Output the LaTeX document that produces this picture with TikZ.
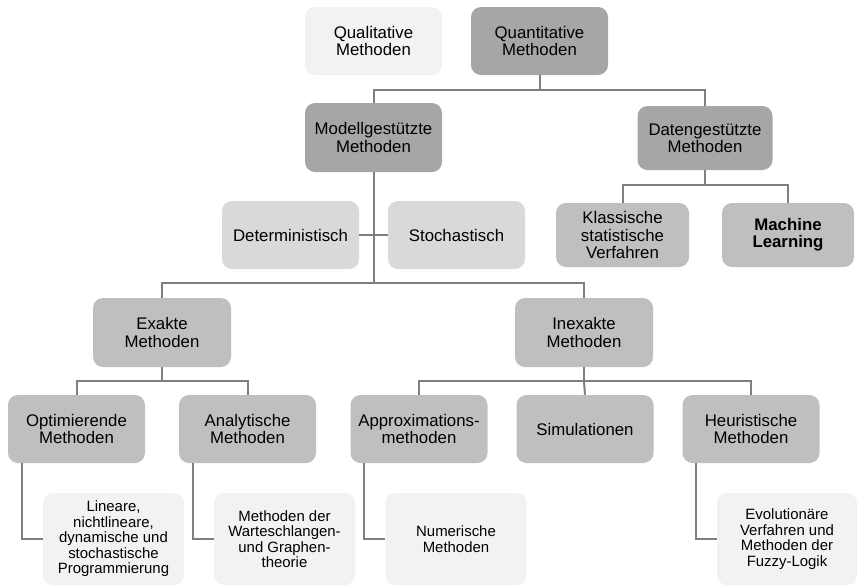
\documentclass[tikz,border=0pt]{standalone}
\usepackage{fontspec}
\setmainfont{Liberation Sans}
\usetikzlibrary{positioning}
\definecolor{boxdark}{HTML}{A6A6A6}
\definecolor{boxmid}{HTML}{BFBFBF}
\definecolor{boxlight}{HTML}{D9D9D9}
\definecolor{boxpale}{HTML}{F2F2F2}
\definecolor{linegray}{HTML}{7F7F7F}

\begin{document}
\begin{tikzpicture}[x=0.75pt, y=-0.75pt]
		\tikzstyle{every node}=[font=\fontsize{12.6}{13}\selectfont]
		\tikzstyle{box}=[rounded corners=7.5pt, align=center, inner sep=0pt, minimum width=102.75pt, minimum height=51pt]
		\tikzstyle{dark}=[box, fill=boxdark]
		\tikzstyle{mid}=[box, fill=boxmid]
		\tikzstyle{light}=[box, fill=boxlight]
		\tikzstyle{pale}=[box, fill=boxpale]
		\tikzstyle{leaf}=[pale, minimum width=105.75pt, minimum height=69pt, font=\fontsize{11.2}{11.6}\selectfont]
		\tikzstyle{link}=[line width=1.5pt, draw=linegray]
		\useasboundingbox (0,0) rectangle (857,586);
		% top row
		\node [pale] (qual) at (373.5,41) {Qualitative\\Methoden};
		\node [dark] (quant) at (539.5,41) {Quantitative\\Methoden};
		\node [dark, minimum height=51.75pt] (modell) at (373.5,137.5) {Modellgestützte\\Methoden};
		\node [dark, minimum width=101.25pt, minimum height=48pt] (daten) at (705,138) {Datengestützte\\Methoden};
		% second row
		\node [light] (determ) at (290.5,235) {Deterministisch};
		\node [light] (stoch) at (456.5,235) {Stochastisch};
		\node [mid, minimum width=99.75pt, minimum height=48pt] (klass) at (622.5,235) {Klassische\\statistische\\Verfahren};
		\node [mid, minimum width=99pt, minimum height=48pt] (ml) at (788,235) {\textbf{Machine}\\\textbf{Learning}};
		% third row
		\node [mid, minimum width=103.5pt, minimum height=51.75pt] (exakt) at (162,332.5) {Exakte\\Methoden};
		\node [mid, minimum width=103.5pt, minimum height=51.75pt] (inexakt) at (584,332.5) {Inexakte\\Methoden};
		% fourth row
		\node [mid] (optim) at (76.5,429) {Optimierende\\Methoden};
		\node [mid] (analyt) at (247.5,429) {Analytische\\Methoden};
		\node [mid] (approx) at (419,429) {Approximations-\\methoden};
		\node [mid] (simul) at (585,429) {Simulationen};
		\node [mid] (heur) at (751,429) {Heuristische\\Methoden};
		% leaves
		\node [leaf] (linear) at (113.5,539) {Lineare,\\nichtlineare,\\dynamische und\\stochastische\\Programmierung};
		\node [leaf] (warte) at (284.5,539) {Methoden der\\Warteschlangen-\\und Graphen-\\theorie};
		\node [leaf] (numer) at (456,539) {Numerische\\Methoden};
		\node [leaf, minimum width=105pt] (evol) at (787,539) {Evolutionäre\\Verfahren und\\Methoden der\\Fuzzy-Logik};
		% connectors
		\draw [link] (quant.south) -- ++(0,15) coordinate (q1);
		\draw [link] (modell.north) |- (q1) -| (daten.north);
		\draw [link] (modell.south) -- ++(0,111) coordinate (m1);
		\draw [link] (determ.east) -- (stoch.west);
		\draw [link] (exakt.north) |- (m1) -| (inexakt.north);
		\draw [link] (daten.south) -- ++(0,15) coordinate (d1);
		\draw [link] (klass.north) |- (d1) -| (ml.north);
		\draw [link] (exakt.south) -- ++(0,14) coordinate (e1);
		\draw [link] (optim.north) |- (e1) -| (analyt.north);
		\draw [link] (inexakt.south) -- ++(0,14) coordinate (i1);
		\draw [link] (approx.north) |- (i1) -| (heur.north);
		\draw [link] (i1) -- (simul.north);
		\draw [link] ([xshift=10.5pt]optim.south west) |- (linear.west);
		\draw [link] ([xshift=10.5pt]analyt.south west) |- (warte.west);
		\draw [link] ([xshift=10.5pt]approx.south west) |- (numer.west);
		\draw [link] ([xshift=10.5pt]heur.south west) |- (evol.west);
		\end{tikzpicture}
\end{document}
